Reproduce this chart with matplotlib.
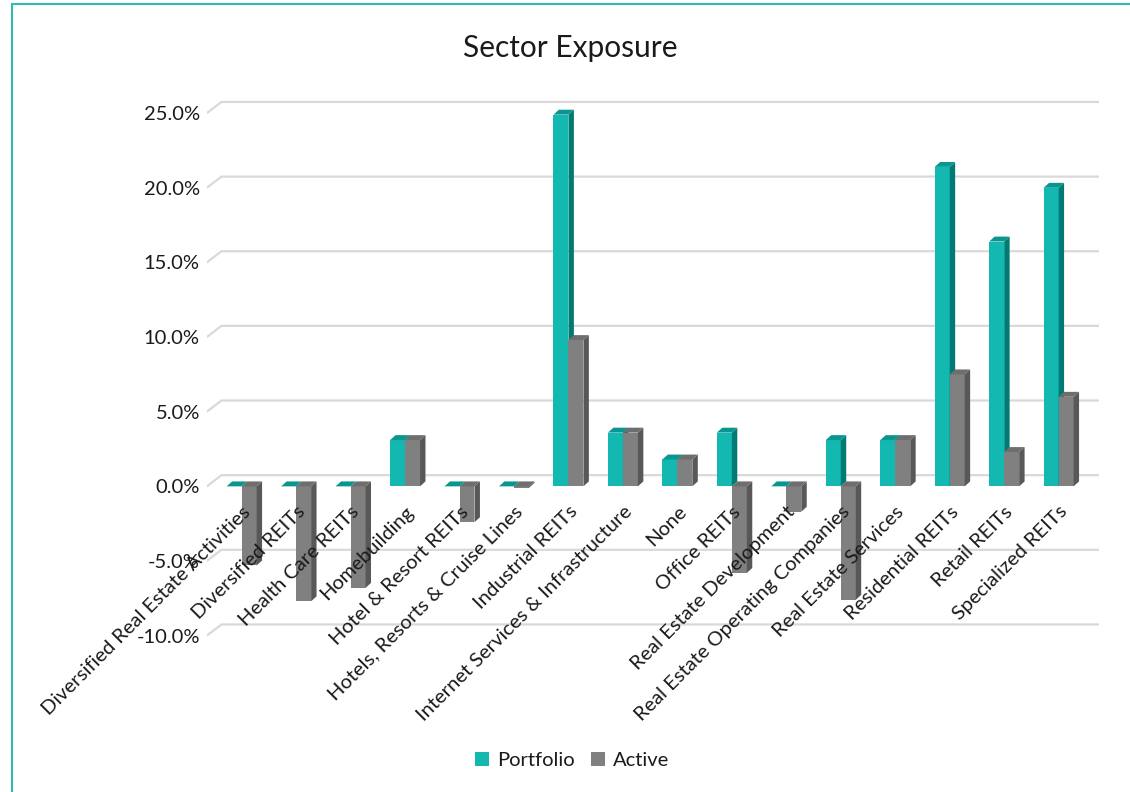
import matplotlib
matplotlib.use('Agg')
import matplotlib.pyplot as plt
from matplotlib.patches import Polygon, Rectangle

plt.rcParams['font.family'] = ['Lato', 'DejaVu Sans']

# Data (percent)
sectors = [
    'Diversified Real Estate Activities', 'Diversified REITs', 'Health Care REITs',
    'Homebuilding', 'Hotel & Resort REITs', 'Hotels, Resorts & Cruise Lines',
    'Industrial REITs', 'Internet Services & Infrastructure', 'None', 'Office REITs',
    'Real Estate Development', 'Real Estate Operating Companies', 'Real Estate Services',
    'Residential REITs', 'Retail REITs', 'Specialized REITs',
]
portfolio = [0.0, 0.0, 0.0, 3.1, 0.0, 0.0, 24.9, 3.6, 1.8, 3.6, 0.0, 3.1, 3.1, 21.4, 16.4, 20.0]
active = [-5.3, -7.7, -6.8, 3.1, -2.4, -0.1, 9.8, 3.6, 1.8, -5.8, -1.7, -7.6, 3.1, 7.5, 2.3, 6.0]
yticks = [-10, -5, 0, 5, 10, 15, 20, 25]

teal = ('#13B8B0', '#0A9690', '#007A74')   # front, top, side
grey = ('#808080', '#6E6E6E', '#585858')
text_col = '#1a1a1a'

fig = plt.figure(figsize=(11.3, 7.92), dpi=100)
ax = fig.add_axes([0.183, 0.188, 0.79, 0.688])
ax.set_xlim(-0.64, 15.75)
ax.set_ylim(-10.5, 26)

bw = 0.275      # bar width
ddx = 0.10      # depth in x (data units)
ddy = 0.33      # depth in y (data units)


def bar3d(x0, val, cols, z):
    x1 = x0 + bw
    lo, hi = min(0, val), max(0, val)
    ax.add_patch(Polygon([(x0, lo), (x1, lo), (x1, hi), (x0, hi)],
                         closed=True, fc=cols[0], ec='none', zorder=z))
    ax.add_patch(Polygon([(x1, lo), (x1 + ddx, lo + ddy), (x1 + ddx, hi + ddy), (x1, hi)],
                         closed=True, fc=cols[2], ec='none', zorder=z))
    ax.add_patch(Polygon([(x0, hi), (x1, hi), (x1 + ddx, hi + ddy), (x0 + ddx, hi + ddy)],
                         closed=True, fc=cols[1], ec='none', zorder=z))


# gridlines on the back wall with a slanted floor edge at the left
gx, gy = 0.27, 0.75
for t in yticks:
    ax.plot([-0.64, -0.64 + gx, 15.75], [t, t + gy, t + gy], color='#d9d9d9', lw=1.6, zorder=1,
            solid_capstyle='butt')

for i, (p, a) in enumerate(zip(portfolio, active)):
    bar3d(i - bw, p, teal, 3 + 2 * i)
    bar3d(i, a, grey, 4 + 2 * i)

ax.tick_params(axis='both', length=0)
ax.tick_params(axis='y', pad=5)
ax.tick_params(axis='x', pad=12)
ax.spines['bottom'].set_position(('data', 0))
for s in ax.spines.values():
    s.set_visible(False)

ax.set_yticks(yticks)
ax.set_yticklabels(['{:.1f}%'.format(t) for t in yticks], fontsize=14.5, color=text_col)
ax.set_xticks(range(len(sectors)))
ax.set_xticklabels(sectors, fontsize=14.5, color=text_col)
for lab in ax.get_xticklabels():
    lab.set_rotation(45)
    lab.set_ha('right')
    lab.set_rotation_mode('anchor')
ax.xaxis.set_zorder(100)
ax.yaxis.set_zorder(100)

fig.suptitle('Sector Exposure', x=0.505, y=0.957, fontsize=21.5, color=text_col)

handles = [Rectangle((0, 0), 1, 1, fc=teal[0]), Rectangle((0, 0), 1, 1, fc=grey[0])]
fig.legend(handles, ['Portfolio', 'Active'], loc='center', bbox_to_anchor=(0.506, 0.04),
           ncol=2, frameon=False, fontsize=14.5, handlelength=0.7, handleheight=0.7,
           columnspacing=0.8, handletextpad=0.4, labelcolor=text_col)

# chart frame (teal border visible at top and left)
fig.patches.append(Rectangle((12 / 1130, -0.1), 1.2, 1.1 - 4 / 792, transform=fig.transFigure,
                             fill=False, ec='#2DBDB6', lw=1.5))

fig.savefig('out.png', dpi=100, facecolor='white')
